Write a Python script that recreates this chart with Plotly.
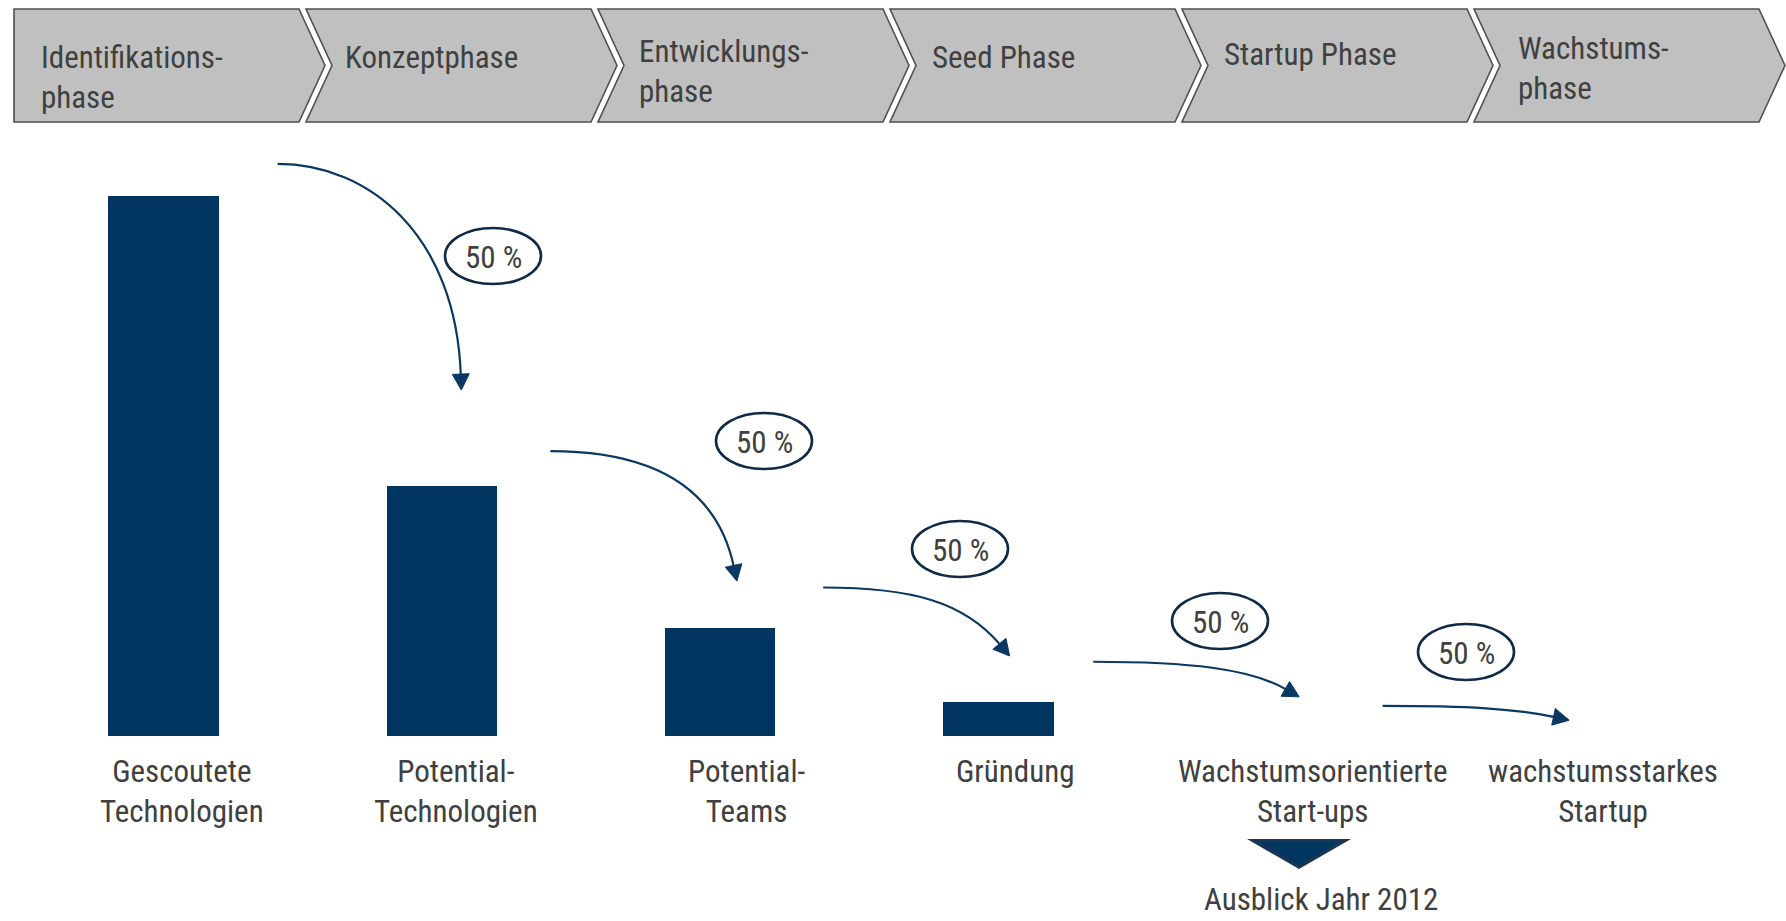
import math
import plotly.graph_objects as go

# ---------------- data ----------------
phases = ["Identifikations-<br>phase", "Konzeptphase", "Entwicklungs-<br>phase",
          "Seed Phase", "Startup Phase", "Wachstums-<br>phase"]
categories = ["Gescoutete<br>Technologien", "Potential-<br>Technologien", "Potential-<br>Teams",
              "Gründung", "Wachstumsorientierte<br>Start-ups", "wachstumsstarkes<br>Startup"]
values = [160, 74, 32, 10, 0, 0]
conversion_labels = ["50 %", "50 %", "50 %", "50 %", "50 %"]
outlook_label = "Ausblick Jahr 2012"

# ---------------- layout / style ----------------
W, H = 1786, 921
FONT = "Liberation Sans Narrow, Arial Narrow, Roboto Condensed, DejaVu Sans Condensed, sans-serif"
TXT = "#404040"
NAVY = "#00365F"
X0, X1 = -0.5874, 5.829
Y0, Y1 = -54.81, 218.07


def xpx(x):
    return (x - X0) / (X1 - X0) * W


def ypx(y):
    return H - (y - Y0) / (Y1 - Y0) * H


def P(x, y):  # pixel -> paper
    return x / W, 1 - y / H


def path(points, close=True):
    s = ""
    for i, (x, y) in enumerate(points):
        px, py = P(x, y)
        s += ("M" if i == 0 else "L") + f"{px:.5f},{py:.5f} "
    return s + ("Z" if close else "")


fig = go.Figure()
fig.add_trace(go.Bar(x=list(range(len(categories))), y=values, width=0.397,
                     marker=dict(color=NAVY, line=dict(width=0)), hoverinfo="skip"))

shapes = []
annotations = []

# chevrons
CH_TOP, CH_BOT, CH_L0, CH_PER, CH_W, CH_TIP = 9, 122, 14, 292, 285, 26
mid = (CH_TOP + CH_BOT) / 2
text_dx = [25, 37, 39, 40, 40, 42]
text_top = [37, 37, 31, 37, 34, 28]
for i, name in enumerate(phases):
    L = CH_L0 + CH_PER * i
    pts = [(L, CH_TOP), (L + CH_W, CH_TOP), (L + CH_W + CH_TIP, mid), (L + CH_W, CH_BOT), (L, CH_BOT)]
    if i > 0:
        pts.append((L + CH_TIP, mid))
    shapes.append(dict(type="path", path=path(pts), xref="paper", yref="paper",
                       fillcolor="#C0C0C0", line=dict(color="#505050", width=1.6), layer="below"))
    ax, ay = P(L + text_dx[i], text_top[i])
    annotations.append(dict(text=name, x=ax, y=ay, xref="paper", yref="paper", xanchor="left",
                            yanchor="top", align="left", showarrow=False,
                            font=dict(family=FONT, size=31, color=TXT)))

# category labels under bars
label_shift = [18.5, 14, 26, 16.5, 36, 48]
LABEL_TOP = 751
for i, c in enumerate(categories):
    annotations.append(dict(text=c, x=i, xref="x", xshift=label_shift[i], y=P(0, LABEL_TOP)[1],
                            yref="paper", yanchor="top", xanchor="center", align="center",
                            showarrow=False, font=dict(family=FONT, size=31, color=TXT)))

# conversion arrows (pixel space derived from the bars)
arrow_start = [(0.41, 9.5), (1.39, 10.4), (2.37, 12.0), (3.34, 12.0), (4.38, 8.9)]   # (x, gap above bar)
arrow_end = [(1.07, 102.5), (2.06, 45.9), (3.04, 23.7), (4.08, 11.6), (5.05, 4.7)]
arrow_angle = [88, 78, 50, 30, 12]
HEAD_L, HEAD_W = 16, 8.5
for i in range(5):
    sx, sy = xpx(arrow_start[i][0]), ypx(values[i] + arrow_start[i][1])
    ex, ey = xpx(arrow_end[i][0]), ypx(arrow_end[i][1])
    th = math.radians(arrow_angle[i])
    ux, uy = math.cos(th), math.sin(th)
    bx, by = ex - HEAD_L * ux, ey - HEAD_L * uy
    hyp = math.hypot(bx - sx, by - sy)
    k2 = min(0.5 * hyp, 0.75 * (by - sy) / max(uy, 1e-3))
    p1 = (sx + 0.5 * (bx - sx), sy)
    p2 = (bx - k2 * ux, by - k2 * uy)
    a = [P(*sx_) for sx_ in [(sx, sy), p1, p2, (bx + 1.5 * ux, by + 1.5 * uy)]]
    d = f"M{a[0][0]:.5f},{a[0][1]:.5f} C{a[1][0]:.5f},{a[1][1]:.5f} {a[2][0]:.5f},{a[2][1]:.5f} {a[3][0]:.5f},{a[3][1]:.5f}"
    shapes.append(dict(type="path", path=d, xref="paper", yref="paper",
                       line=dict(color="#0B3763", width=2.2)))
    head = [(ex, ey), (bx - HEAD_W * uy, by + HEAD_W * ux), (bx + HEAD_W * uy, by - HEAD_W * ux)]
    shapes.append(dict(type="path", path=path(head), xref="paper", yref="paper",
                       fillcolor="#0B3763", line=dict(color="#0B3763", width=1)))

# ellipses with conversion rates
ell_center = [(493, 256), (764, 441), (960, 549), (1220, 621), (1466, 652)]
RX, RY = 48, 28
for (cx, cy), lab in zip(ell_center, conversion_labels):
    x0, y0 = P(cx - RX, cy + RY)
    x1, y1 = P(cx + RX, cy - RY)
    shapes.append(dict(type="circle", x0=x0, x1=x1, y0=y0, y1=y1, xref="paper", yref="paper",
                       line=dict(color="#0E2A47", width=2.6)))
    tx, ty = P(cx, cy + 1)
    annotations.append(dict(text=lab, x=tx, y=ty, xref="paper", yref="paper", showarrow=False,
                            xanchor="center", yanchor="middle",
                            font=dict(family=FONT, size=31, color=TXT)))

# outlook marker
shapes.append(dict(type="path", path=path([(1247, 839), (1351, 839), (1299, 869)]),
                   xref="paper", yref="paper", fillcolor="#1B3554", line=dict(width=0)))
shapes.append(dict(type="path", path=path([(1259, 842), (1339, 842), (1299, 865)]),
                   xref="paper", yref="paper", fillcolor="#00365F", line=dict(width=0)))
ox, oy = P(1321, 920)
annotations.append(dict(text=outlook_label, x=ox, y=oy, xref="paper", yref="paper",
                        showarrow=False, xanchor="center", yanchor="bottom",
                        font=dict(family=FONT, size=31, color=TXT)))

fig.update_layout(
    width=W, height=H, margin=dict(l=0, r=0, t=0, b=0),
    paper_bgcolor="white", plot_bgcolor="white", showlegend=False,
    xaxis=dict(range=[X0, X1], visible=False, fixedrange=True),
    yaxis=dict(range=[Y0, Y1], visible=False, fixedrange=True),
    shapes=shapes, annotations=annotations, bargap=0,
)

fig.write_html("out.html", config={"displayModeBar": False},
               post_script="document.body.style.margin='0';document.body.style.overflow='hidden';")
